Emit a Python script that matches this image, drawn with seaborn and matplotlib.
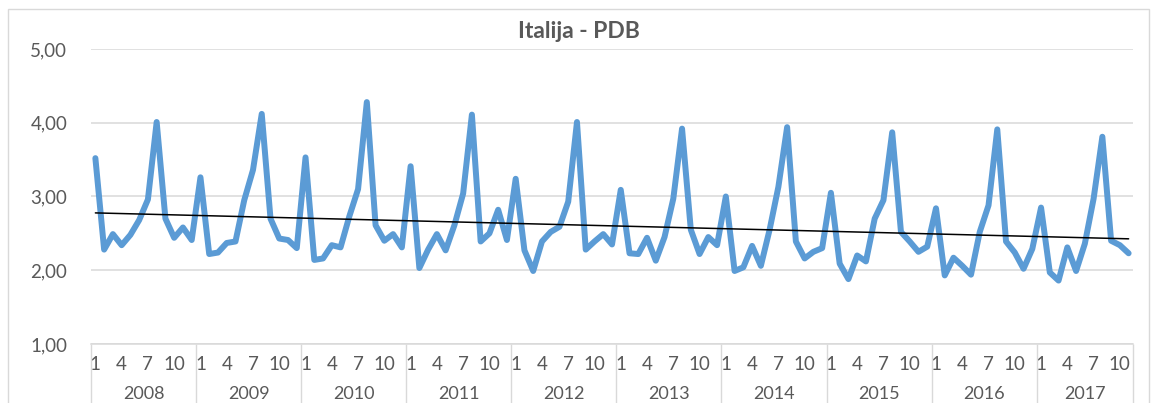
import numpy as np
import pandas as pd
import matplotlib
matplotlib.use("Agg")
import matplotlib.pyplot as plt
from matplotlib.patches import Rectangle
import seaborn as sns

# ---- data ----
title = "Italija - PDB"
years = [2008, 2009, 2010, 2011, 2012, 2013, 2014, 2015, 2016, 2017]
v2008 = [3.52, 2.28, 2.49, 2.34, 2.48, 2.68, 2.96, 4.01, 2.70, 2.44, 2.58, 2.41]
v2009 = [3.26, 2.22, 2.24, 2.37, 2.39, 2.95, 3.36, 4.12, 2.70, 2.43, 2.41, 2.30]
v2010 = [3.53, 2.14, 2.16, 2.34, 2.31, 2.73, 3.10, 4.28, 2.61, 2.40, 2.49, 2.31]
v2011 = [3.41, 2.03, 2.28, 2.49, 2.27, 2.61, 3.04, 4.11, 2.39, 2.50, 2.82, 2.41]
v2012 = [3.24, 2.27, 1.99, 2.39, 2.52, 2.59, 2.93, 4.01, 2.28, 2.39, 2.49, 2.35]
v2013 = [3.09, 2.23, 2.22, 2.44, 2.13, 2.45, 2.97, 3.92, 2.55, 2.22, 2.45, 2.34]
v2014 = [3.00, 1.99, 2.04, 2.33, 2.06, 2.55, 3.13, 3.94, 2.39, 2.16, 2.25, 2.30]
v2015 = [3.05, 2.09, 1.88, 2.20, 2.12, 2.70, 2.95, 3.87, 2.52, 2.39, 2.25, 2.32]
v2016 = [2.84, 1.93, 2.17, 2.06, 1.94, 2.52, 2.88, 3.91, 2.39, 2.24, 2.02, 2.29]
v2017 = [2.85, 1.97, 1.86, 2.31, 1.99, 2.36, 2.97, 3.81, 2.40, 2.34, 2.23]
series = [v2008, v2009, v2010, v2011, v2012, v2013, v2014, v2015, v2016, v2017]
month_label_set = [1, 4, 7, 10]
y_ticks = [1, 2, 3, 4, 5]

# ---- build table ----
values = [v for ys in series for v in ys]
months = [m + 1 for ys in series for m in range(len(ys))]
year_col = [y for y, ys in zip(years, series) for _ in ys]
n = len(values)
df = pd.DataFrame({"idx": np.arange(n), "value": values, "month": months, "year": year_col})

counts = [len(s) for s in series]
starts = np.concatenate([[0], np.cumsum(counts)])
year_bounds = starts - 0.5
year_centers = (starts[:-1] + starts[1:] - 1) / 2.0
bounds = np.arange(n + 1) - 0.5
month_labels = [str(m) if m in month_label_set else "" for m in months]

# ---- style ----
sns.set_theme(style="white")
plt.rcParams["font.family"] = ["Lato", "DejaVu Sans"]
grey_txt = "#595959"
grid_c = "#D9D9D9"
W, H = 1157, 403

fig = plt.figure(figsize=(W / 100, H / 100), dpi=100)
ax = fig.add_axes([91 / W, 1 - 344 / H, (1133 - 91) / W, (344 - 49) / H])

sns.lineplot(data=df, x="idx", y="value", color="#5B9BD5", linewidth=4.3, ax=ax,
             solid_joinstyle="round", solid_capstyle="round")
sns.regplot(data=df, x="idx", y="value", scatter=False, ci=None, truncate=True,
            color="black", line_kws=dict(linewidth=1.1), ax=ax)

ax.set_xlim(-0.5, n - 0.5)
ax.set_ylim(1, 5)
ax.set_xlabel("")
ax.set_ylabel("")

ax.set_yticks(y_ticks)
ax.set_yticklabels([f"{t:.2f}".replace(".", ",") for t in y_ticks])
ax.yaxis.grid(True, color=grid_c, linewidth=1.1)
ax.set_axisbelow(True)
ax.tick_params(axis="y", length=0, pad=17, labelsize=13.5, labelcolor=grey_txt)

for s in ["left", "top", "right"]:
    ax.spines[s].set_visible(False)
ax.spines["bottom"].set_color(grid_c)
ax.spines["bottom"].set_linewidth(1.1)

# category separators crossing the axis
ax.set_xticks(bounds)
ax.set_xticklabels([])
ax.set_xticks(bounds, minor=True)
ax.xaxis.remove_overlapping_locs = False
ax.tick_params(axis="x", which="major", direction="out", length=23.8, width=1.0, color=grid_c)
ax.tick_params(axis="x", which="minor", direction="in", length=4.3, width=1.0, color=grid_c)

# month labels
sec1 = ax.secondary_xaxis("bottom")
sec1.set_xticks(df["idx"].values, labels=month_labels)
sec1.tick_params(length=0, pad=9.0, labelsize=13.5, labelcolor=grey_txt)
sec1.spines["bottom"].set_visible(False)

# year separators
sec2 = ax.secondary_xaxis("bottom")
sec2.set_xticks(year_bounds, labels=[""] * len(year_bounds))
sec2.tick_params(direction="out", length=50, width=1.0, color=grid_c)
sec2.spines["bottom"].set_visible(False)

# year labels
sec3 = ax.secondary_xaxis("bottom")
sec3.set_xticks(year_centers, labels=[str(y) for y in years])
sec3.tick_params(length=0, pad=30.5, labelsize=13, labelcolor=grey_txt)
sec3.spines["bottom"].set_visible(False)

fig.text(0.5, 1 - 32 / H, title, ha="center", va="center", fontsize=16.5,
         fontweight="bold", color=grey_txt)

fig.patches.append(Rectangle((8 / W, -0.1), (1149 - 8) / W, (H - 9) / H + 0.1,
                             transform=fig.transFigure, fill=False,
                             edgecolor=grid_c, linewidth=1.0))

fig.savefig("out.png", dpi=100)
